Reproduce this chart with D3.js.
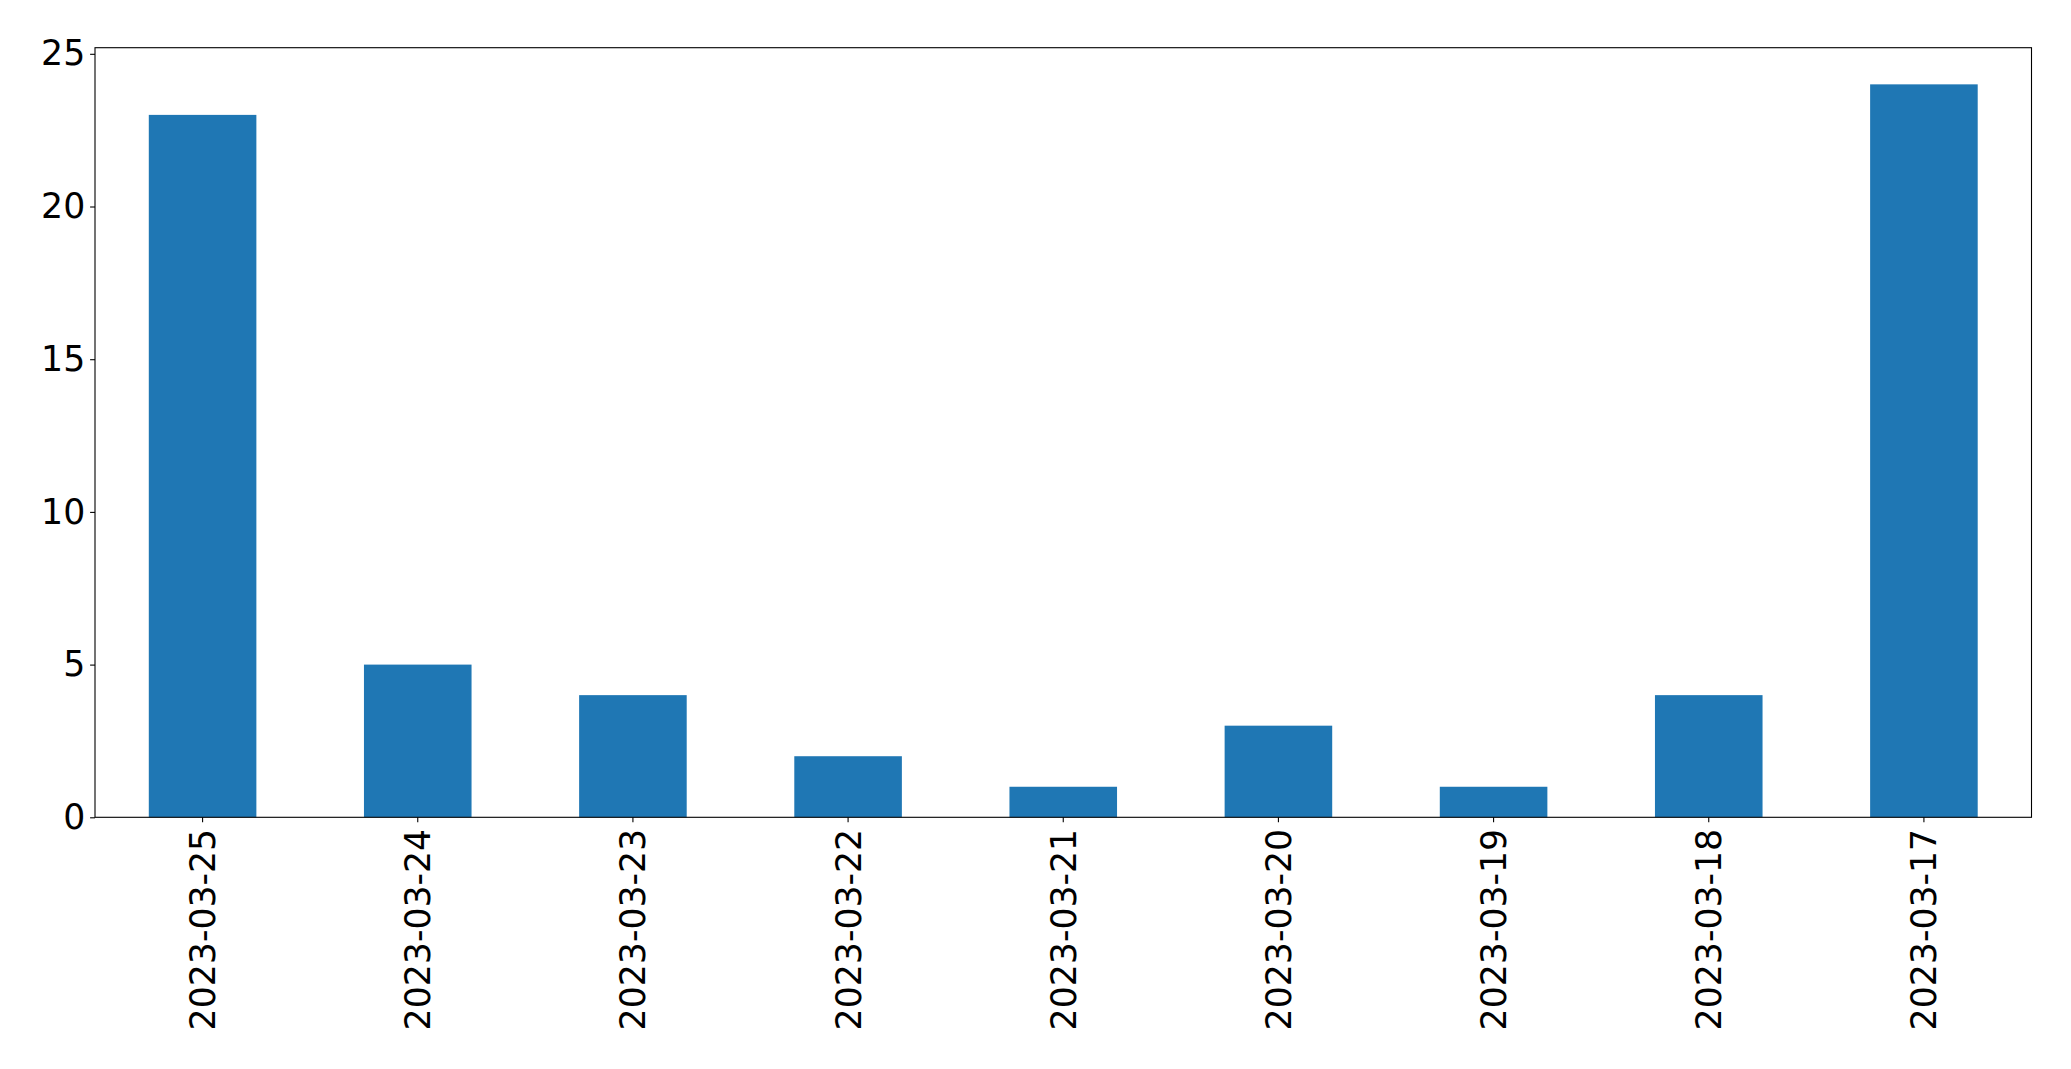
<!DOCTYPE html>
<html>
<head>
<meta charset="utf-8">
<script src="https://cdn.jsdelivr.net/npm/d3@7"></script>
<style>
  html, body { margin: 0; padding: 0; background: #fff; }
  svg { display: block; }
</style>
</head>
<body>
<svg id="chart" width="2071" height="1069"></svg>
<script>
const categories = ["2023-03-25", "2023-03-24", "2023-03-23", "2023-03-22", "2023-03-21", "2023-03-20", "2023-03-19", "2023-03-18", "2023-03-17"];
const values = [23, 5, 4, 2, 1, 3, 1, 4, 24];
const yTicks = [0, 5, 10, 15, 20, 25];

const W = 2071, H = 1069;
const margin = { left: 95, right: 2071 - 2031.5, top: 47.7, bottom: 1069 - 817.3 };
const svg = d3.select("#chart");
const font = "'DejaVu Sans', sans-serif";
const fs = "34.7px";

const x = d3.scaleBand().domain(categories).range([margin.left, W - margin.right]).paddingInner(0.5).paddingOuter(0.25);
const y = d3.scaleLinear().domain([0, d3.max(values) * 1.05]).range([H - margin.bottom, margin.top]);

svg.append("g").selectAll("rect").data(values).join("rect")
  .attr("x", (d, i) => x(categories[i]))
  .attr("width", x.bandwidth())
  .attr("y", d => y(d))
  .attr("height", d => y(0) - y(d))
  .attr("fill", "#1f77b4");

const yAxis = svg.append("g").attr("transform", `translate(${margin.left},0)`)
  .call(d3.axisLeft(y).tickValues(yTicks).tickSize(4.9).tickPadding(4.9).tickFormat(d3.format("d")));
yAxis.select(".domain").remove();
yAxis.selectAll("line").attr("stroke", "#000").attr("stroke-width", 1.1);
yAxis.selectAll("text").attr("font-family", font).attr("font-size", fs).attr("fill", "#000");

const xAxis = svg.append("g").attr("transform", `translate(0,${H - margin.bottom})`)
  .call(d3.axisBottom(x).tickSize(4.9).tickPadding(0));
xAxis.select(".domain").remove();
xAxis.selectAll("line").attr("stroke", "#000").attr("stroke-width", 1.1);
xAxis.selectAll("text")
  .attr("font-family", font).attr("font-size", fs).attr("fill", "#000")
  .attr("text-anchor", "end")
  .attr("transform", "rotate(-90)")
  .attr("x", -11.5)
  .attr("y", 0)
  .attr("dy", "0.36em");

svg.append("rect")
  .attr("x", margin.left).attr("y", margin.top)
  .attr("width", W - margin.right - margin.left)
  .attr("height", H - margin.bottom - margin.top)
  .attr("fill", "none").attr("stroke", "#000").attr("stroke-width", 1.1);
</script>
</body>
</html>
